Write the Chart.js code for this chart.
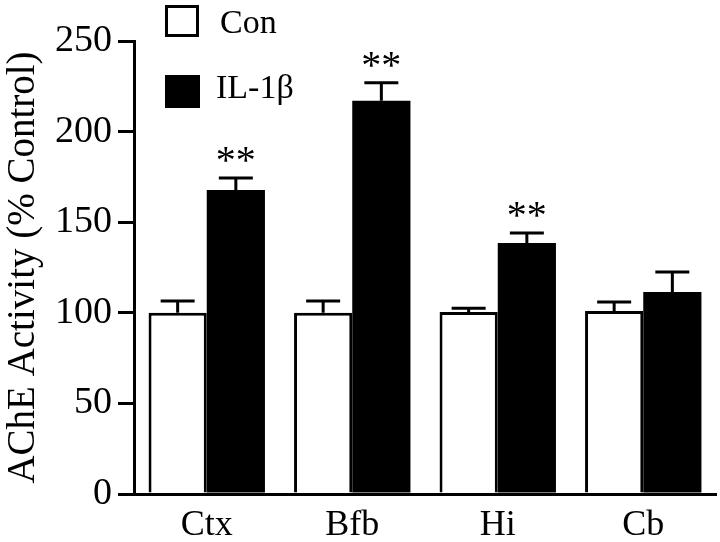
<!DOCTYPE html>
<html lang="en">
<head>
    <meta charset="UTF-8">
    <title>AChE Activity</title>
    <script src="https://cdn.jsdelivr.net/npm/chart.js"></script>
    <style>
        html, body { margin: 0; padding: 0; background: #fff; }
        #wrap { width: 720px; height: 542px; }
    </style>
</head>
<body>
    <div id="wrap"><canvas id="acheChart" width="720" height="542"></canvas></div>

    <script>
        // data
        const regions = ['Ctx', 'Bfb', 'Hi', 'Cb'];
        const conValues = [100, 100, 100.5, 101];
        const conErrors = [6.5, 6.5, 2, 5];
        const il1bValues = [167.8, 217, 138.5, 111.5];
        const il1bErrors = [6.6, 10, 5.5, 11];
        const significant = [true, true, true, false];
        const yTicks = [0, 50, 100, 150, 200, 250];

        const serif = "'Liberation Serif', 'Times New Roman', Times, serif";

        // error bars (upward only) and ** markers
        const errorBars = {
            id: 'errorBars',
            afterDatasetsDraw(chart) {
                const ctx = chart.ctx;
                const y = chart.scales.y;
                const errs = [conErrors, il1bErrors];
                ctx.save();
                ctx.strokeStyle = '#000';
                ctx.lineWidth = 3;
                chart.data.datasets.forEach((ds, di) => {
                    const meta = chart.getDatasetMeta(di);
                    meta.data.forEach((bar, i) => {
                        const top = y.getPixelForValue(ds.data[i]);
                        const errTop = y.getPixelForValue(ds.data[i] + errs[di][i]);
                        ctx.beginPath();
                        ctx.moveTo(bar.x, top);
                        ctx.lineTo(bar.x, errTop);
                        ctx.moveTo(bar.x - 17, errTop);
                        ctx.lineTo(bar.x + 17, errTop);
                        ctx.stroke();
                        if (di === 1 && significant[i]) {
                            ctx.fillStyle = '#000';
                            ctx.font = '40px ' + serif;
                            ctx.textAlign = 'center';
                            ctx.textBaseline = 'alphabetic';
                            ctx.fillText('**', bar.x, errTop - 5);
                        }
                    });
                });
                ctx.restore();
            }
        };

        // legend in the upper left corner
        const cornerLegend = {
            id: 'cornerLegend',
            afterDraw(chart) {
                const ctx = chart.ctx;
                ctx.save();
                ctx.fillStyle = '#fff';
                ctx.fillRect(165, 5, 34, 32);
                ctx.strokeStyle = '#000';
                ctx.lineWidth = 3;
                ctx.strokeRect(166.5, 6.5, 31, 29);
                ctx.fillStyle = '#000';
                ctx.fillRect(165, 75, 35, 33);
                ctx.font = '34px ' + serif;
                ctx.textAlign = 'left';
                ctx.textBaseline = 'alphabetic';
                ctx.fillText(chart.data.datasets[0].label, 220, 33);
                ctx.fillText(chart.data.datasets[1].label, 216, 98);
                ctx.restore();
            }
        };

        new Chart(document.getElementById('acheChart').getContext('2d'), {
            type: 'bar',
            data: {
                labels: regions,
                datasets: [{
                    label: 'Con',
                    data: conValues,
                    backgroundColor: '#fff',
                    borderColor: '#000',
                    borderWidth: 3
                }, {
                    label: 'IL-1\u03b2',
                    data: il1bValues,
                    backgroundColor: '#000',
                    borderColor: '#000',
                    borderWidth: 0
                }]
            },
            options: {
                responsive: false,
                animation: false,
                layout: { padding: { top: 41, right: 4 } },
                datasets: { bar: { categoryPercentage: 0.8, barPercentage: 1 } },
                plugins: {
                    legend: { display: false },
                    tooltip: { enabled: false }
                },
                scales: {
                    x: {
                        grid: { display: false, drawTicks: false },
                        border: { display: true, color: '#000', width: 3 },
                        ticks: { color: '#000', padding: 10, font: { family: serif, size: 36 } },
                        afterFit(s) { s.height = 48; }
                    },
                    y: {
                        min: 0,
                        max: 250,
                        afterBuildTicks(s) { s.ticks = yTicks.map(v => ({ value: v })); },
                        grid: { drawOnChartArea: false, color: '#000', lineWidth: 3, tickLength: 16 },
                        border: { display: true, color: '#000', width: 3 },
                        ticks: { color: '#000', padding: 6, font: { family: serif, size: 38 } },
                        title: {
                            display: true,
                            text: 'AChE Activity (% Control)',
                            color: '#000',
                            padding: 0,
                            font: { family: serif, size: 39 }
                        },
                        afterFit(s) { s.width = 134; }
                    }
                }
            },
            plugins: [errorBars, cornerLegend]
        });
    </script>
</body>
</html>
